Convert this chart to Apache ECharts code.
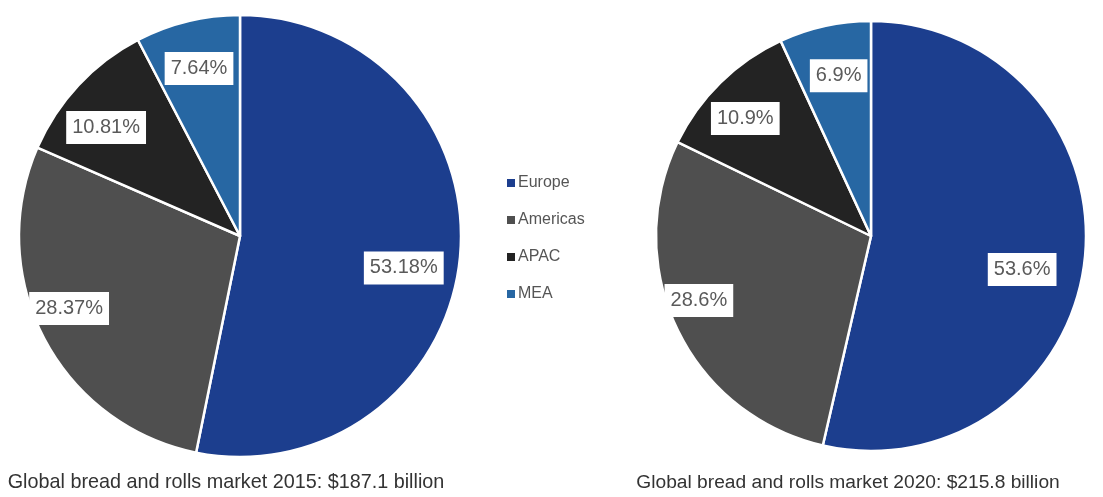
<!DOCTYPE html>
<html>
<head>
<meta charset="utf-8">
<script src="https://cdn.jsdelivr.net/npm/echarts@6/dist/echarts.min.js"></script>
<style>
  html, body { margin: 0; padding: 0; background: #ffffff; }
  #chart { width: 1103px; height: 497px; }
</style>
</head>
<body>
<div id="chart"></div>
<script>
// Regional shares of the global bread and rolls market (percent)
const regions = ['Europe', 'Americas', 'APAC', 'MEA'];
const share2015 = [53.18, 28.37, 10.81, 7.64];
const share2020 = [53.6, 28.6, 10.9, 6.9];
const captions = [
  'Global bread and rolls market 2015: $187.1 billion',
  'Global bread and rolls market 2020: $215.8 billion'
];

const colors = ['#1c3e8e', '#4f4f4f', '#232323', '#2767a3'];
const FONT = '"Liberation Sans", Arial, sans-serif';

// Geometry of each pie; label spots are [fraction of radius, angular shift in degrees]
const pies = [
  { center: [240, 236], radius: 221, values: share2015,
    spots: [[0.755, 5.3], [0.84, 4.5], [0.78, -4], [0.78, 0]] },
  { center: [871, 236], radius: 215, values: share2020,
    spots: [[0.72, 6], [0.855, 5], [0.80, -2.5], [0.76, 1]] }
];

// Mid-angle (degrees clockwise from 12 o'clock) of every slice
function midAngles(values) {
  const total = values.reduce((a, b) => a + b, 0);
  let acc = 0;
  return values.map(v => {
    const start = acc;
    acc += v / total * 360;
    return start + v / total * 180;
  });
}

function placeLabel(params) {
  const pie = pies[params.seriesIndex];
  const mids = midAngles(pie.values);
  const spot = pie.spots[params.dataIndex];
  const a = (mids[params.dataIndex] + spot[1]) * Math.PI / 180;
  const dist = spot[0] * pie.radius;
  const tx = pie.center[0] + dist * Math.sin(a);
  const ty = pie.center[1] - dist * Math.cos(a);
  const r = params.labelRect;
  return { dx: tx - (r.x + r.width / 2), dy: ty - (r.y + r.height / 2) };
}

function pieSeries(pie) {
  return {
    type: 'pie',
    center: pie.center,
    radius: pie.radius,
    startAngle: 90,
    clockwise: true,
    avoidLabelOverlap: false,
    silent: true,
    animation: false,
    emphasis: { disabled: true },
    itemStyle: { borderColor: '#ffffff', borderWidth: 2.5 },
    label: {
      show: true,
      position: 'inside',
      formatter: p => p.value + '%',
      backgroundColor: '#ffffff',
      color: '#5a5a5a',
      fontFamily: FONT,
      fontSize: 20,
      lineHeight: 21,
      padding: [6, 6]
    },
    labelLine: { show: false },
    labelLayout: placeLabel,
    data: regions.map((name, i) => ({ name, value: pie.values[i] }))
  };
}

const chart = echarts.init(document.getElementById('chart'), null, { renderer: 'canvas' });
chart.setOption({
  backgroundColor: '#ffffff',
  color: colors,
  animation: false,
  legend: {
    data: regions,
    orient: 'vertical',
    left: 500,
    top: 170,
    icon: 'rect',
    itemWidth: 10,
    itemHeight: 10,
    itemGap: 21,
    selectedMode: false,
    textStyle: { color: '#555555', fontSize: 16, fontFamily: FONT, padding: [0, 0, 0, -3] }
  },
  series: pies.map(pieSeries),
  graphic: [
    { type: 'text', x: 226, y: 483, silent: true,
      style: { text: captions[0], align: 'center', verticalAlign: 'middle',
               fill: '#333333', fontSize: 19.8, fontFamily: FONT } },
    { type: 'text', x: 848, y: 483, silent: true,
      style: { text: captions[1], align: 'center', verticalAlign: 'middle',
               fill: '#333333', fontSize: 19.2, fontFamily: FONT } }
  ]
});
</script>
</body>
</html>
